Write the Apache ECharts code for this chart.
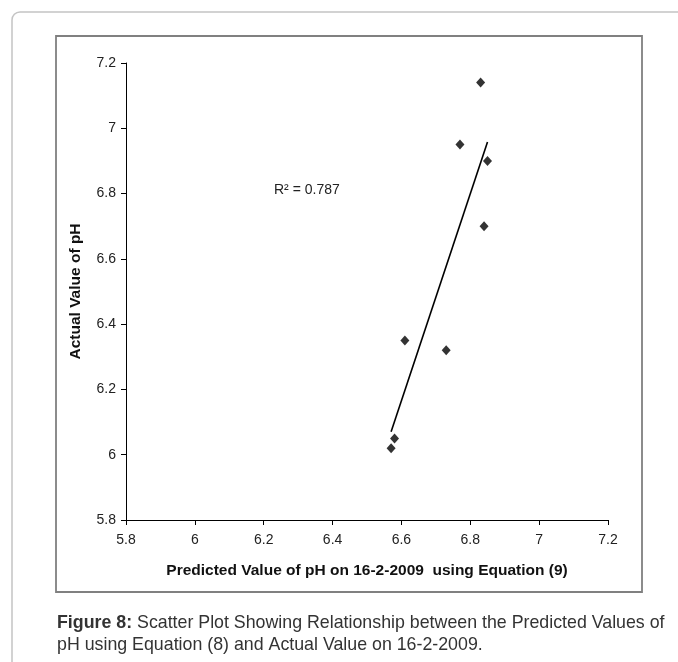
<!DOCTYPE html>
<html>
<head>
<meta charset="utf-8">
<title>Figure 8</title>
<script src="https://cdn.jsdelivr.net/npm/echarts@6/dist/echarts.min.js"></script>
<style>
    html, body { margin: 0; padding: 0; background: #fff; }
    #echarts_scatter { width: 678px; height: 662px; }
</style>
</head>
<body>
<div id="echarts_scatter"></div>
<script>
// data
var predicted = [6.83, 6.77, 6.85, 6.84, 6.61, 6.73, 6.58, 6.57];
var actual = [7.14, 6.95, 6.90, 6.70, 6.35, 6.32, 6.05, 6.02];
var xTickLabels = ['5.8', '6', '6.2', '6.4', '6.6', '6.8', '7', '7.2'];
var yTickLabels = ['5.8', '6', '6.2', '6.4', '6.6', '6.8', '7', '7.2'];
var rSquaredText = 'R\u00b2 = 0.787';
var xName = 'Predicted Value of pH on 16-2-2009  using Equation (9)';
var yName = 'Actual Value of pH';

var labelFont = '"Liberation Sans Narrow", "Arial Narrow", "Liberation Sans", Arial, sans-serif';
var textFont = '"Liberation Sans", Arial, Helvetica, sans-serif';

var dom = document.getElementById("echarts_scatter");
var myChart = echarts.init(dom);
var option = null;

var points = predicted.map(function (x, i) { return [x, actual[i]]; });

// least squares trend line over the data range
var n = predicted.length, mx = 0, my = 0;
for (var i = 0; i < n; i++) { mx += predicted[i]; my += actual[i]; }
mx /= n; my /= n;
var sxy = 0, sxx = 0;
for (var i = 0; i < n; i++) {
    sxy += (predicted[i] - mx) * (actual[i] - my);
    sxx += (predicted[i] - mx) * (predicted[i] - mx);
}
var slope = sxy / sxx;
var x0 = Math.min.apply(null, predicted), x1 = Math.max.apply(null, predicted);
var trend = [[x0, my + slope * (x0 - mx)], [x1, my + slope * (x1 - mx)]];

var axisCommon = {
    type: 'value',
    min: 5.8,
    max: 7.2,
    interval: 0.2,
    splitLine: { show: false },
    axisLine: { onZero: false, lineStyle: { color: '#000', width: 1 } },
    axisTick: { length: 5, lineStyle: { color: '#000' } },
    nameLocation: 'middle',
    nameTextStyle: { fontFamily: labelFont, fontWeight: 'bold', fontSize: 15.5, color: '#111' }
};

option = {
    animation: false,
    backgroundColor: '#fff',
    grid: { left: 126, right: 70, top: 63, bottom: 142 },
    xAxis: Object.assign({}, axisCommon, {
        name: xName,
        nameGap: 43,
        axisLabel: {
            margin: 13,
            fontFamily: labelFont, fontSize: 14, color: '#222',
            formatter: function (v, idx) { return xTickLabels[idx]; }
        }
    }),
    yAxis: Object.assign({}, axisCommon, {
        name: yName,
        nameGap: 42,
        axisLabel: {
            margin: 10,
            fontFamily: labelFont, fontSize: 14, color: '#222',
            formatter: function (v, idx) { return yTickLabels[idx]; }
        }
    }),
    graphic: [
        {
            type: 'rect', silent: true, z: -10,
            shape: { x: 12, y: 12, width: 720, height: 720, r: 8 },
            style: { fill: 'none', stroke: '#c4c4c4', lineWidth: 1.5 }
        },
        {
            type: 'rect', silent: true, z: -9,
            shape: { x: 56, y: 36, width: 586, height: 556 },
            style: { fill: 'none', stroke: '#808080', lineWidth: 1.8 }
        },
        {
            type: 'text', left: 274, top: 183,
            style: { text: rSquaredText, fontFamily: textFont, fontSize: 14, fill: '#222' }
        },
        {
            type: 'text', left: 57, top: 612,
            style: {
                text: '{b|Figure 8:} Scatter Plot Showing Relationship between the Predicted Values of\npH using Equation (8) and Actual Value on 16-2-2009.',
                fontFamily: textFont, fontSize: 17.8, lineHeight: 22, fill: '#333',
                rich: { b: { fontFamily: textFont, fontSize: 17.8, fontWeight: 'bold', fill: '#333' } }
            }
        }
    ],
    series: [
        {
            name: 'trend',
            type: 'line',
            data: trend,
            symbol: 'none',
            lineStyle: { color: '#000', width: 1.6 },
            z: 2
        },
        {
            name: 'pH',
            type: 'scatter',
            data: points,
            symbol: 'diamond',
            symbolSize: [9, 10],
            itemStyle: { color: '#000' },
            z: 3
        }
    ]
};
if (option && typeof option === "object") {
    myChart.setOption(option, true);
}
</script>
</body>
</html>
